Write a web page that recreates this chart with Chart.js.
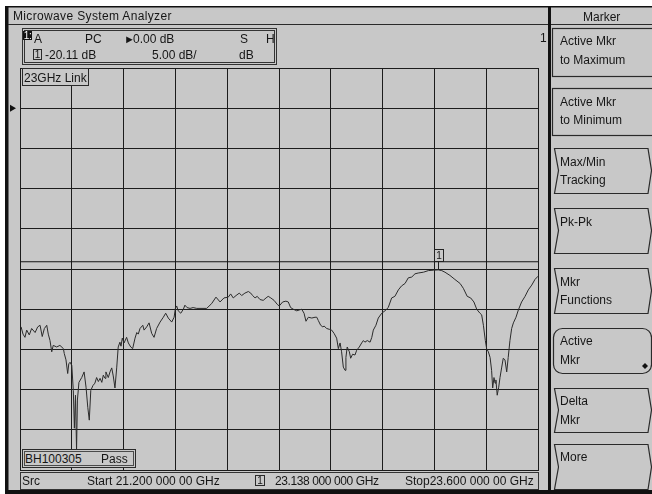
<!DOCTYPE html>
<html>
<head>
<meta charset="utf-8">
<title>Microwave System Analyzer</title>
<script src="https://cdn.jsdelivr.net/npm/chart.js@4/dist/chart.umd.min.js"></script>
<style>
  html, body { margin: 0; padding: 0; background: #fff; }
  #screen { position: relative; width: 652px; height: 494px; overflow: hidden;
            font-family: 'Liberation Sans', Arial, sans-serif; color: #161616; }
  #chrome { position: absolute; left: 0; top: 0; z-index: 0; }
  #plot { position: absolute; left: 0; top: 0; z-index: 1; }
  .t { position: absolute; font-size: 12px; line-height: 12px; white-space: nowrap; z-index: 3; }
  .box { position: absolute; background: #c8c8c8; border: 1px solid #2a2a2a; box-sizing: border-box; z-index: 2; }
  .num { position: absolute; box-sizing: border-box; border: 1px solid #2a2a2a; font-size: 10px;
         line-height: 9px; text-align: center; z-index: 3; }
  .hl { position: absolute; background: #111; color: #ffffff; font-size: 10px; line-height: 9px;
        letter-spacing: -0.5px; text-align: center; box-sizing: border-box; z-index: 3; }
</style>
</head>
<body>
<div id="screen">
  <svg id="chrome" width="652" height="494" xmlns="http://www.w3.org/2000/svg">
    <rect width="652" height="494" fill="#ffffff"/>
    <rect x="5" y="6" width="647" height="488" fill="#c8c8c8"/>
    <rect x="5" y="6" width="647" height="1.5" fill="#111"/>
    <rect x="5" y="6" width="3.5" height="488" fill="#111"/>
    <rect x="5" y="490" width="647" height="4" fill="#111"/>
    <line x1="8" y1="24.5" x2="652" y2="24.5" stroke="#2a2a2a"/>
    <rect x="548" y="6" width="3" height="484" fill="#111"/>
    <!-- trace info block -->
    <rect x="22.5" y="28.5" width="254" height="36" fill="none" stroke="#333"/>
    <rect x="24.5" y="30.5" width="250" height="32" fill="none" stroke="#333"/>
    <!-- status line -->
    <rect x="20.5" y="472.5" width="518" height="17" fill="none" stroke="#333"/>
    <!-- softkeys -->
    <g fill="none" stroke="#2a2a2a" stroke-width="1.2">
      <rect x="552.5" y="28.5" width="120" height="48"/>
      <rect x="552.5" y="88.5" width="120" height="47"/>
      <path d="M648 148.5 H554.5 L558.5 170.5 L554.5 193.5 H648 L651.5 170.5 Z"/>
      <path d="M648 208.5 H554.5 L558.5 230.5 L554.5 253.5 H648 L651.5 230.5 Z"/>
      <path d="M648 268.5 H554.5 L558.5 290.5 L554.5 313.5 H648 L651.5 290.5 Z"/>
      <rect x="553.5" y="328.5" width="98" height="45" rx="9"/>
      <path d="M648 388.5 H554.5 L558.5 410 L554.5 432.5 H648 L651.5 410 Z"/>
      <path d="M648 444.5 H554.5 L558.5 467 L554.5 489.5 H648 L651.5 467 Z"/>
    </g>
    <path d="M645 363 L648 366 L645 369 L642 366 Z" fill="#111"/>
  </svg>

  <canvas id="plot" width="652" height="494"></canvas>

  <!-- title bars -->
  <div class="t" style="left:13px;top:10px;letter-spacing:0.35px;">Microwave System Analyzer</div>
  <div class="t" style="left:583px;top:11px;">Marker</div>

  <!-- trace info block -->
  <div class="hl" style="left:23px;top:31px;width:9px;height:9px;">1:</div>
  <div class="t" style="left:34px;top:33px;">A</div>
  <div class="t" style="left:85px;top:33px;">PC</div>
  <div class="t" style="left:124px;top:33px;font-size:11px;">&#9658;</div>
  <div class="t" id="refText" style="left:133px;top:33px;"></div>
  <div class="t" style="left:240px;top:33px;">S</div>
  <div class="t" style="left:266px;top:33px;">H</div>
  <div class="num" style="left:33px;top:49px;width:9px;height:11px;">1</div>
  <div class="t" id="mkrValText" style="left:45px;top:48.5px;"></div>
  <div class="t" id="scaleText" style="left:152px;top:48.5px;"></div>
  <div class="t" style="left:239px;top:48.5px;">dB</div>
  <div class="t" style="left:540px;top:32px;">1</div>

  <!-- annotations inside the graticule -->
  <div class="box" style="left:22px;top:68px;width:67px;height:18px;"></div>
  <div class="t" style="left:24px;top:71.5px;">23GHz Link</div>
  <div class="box" style="left:22px;top:449px;width:114px;height:19px;box-shadow: inset 0 0 0 1px #c8c8c8, inset 0 0 0 2px #4a4a4a;"></div>
  <div class="t" style="left:25px;top:452.5px;">BH100305</div>
  <div class="t" style="left:101px;top:452.5px;">Pass</div>

  <!-- status line -->
  <div class="t" style="left:22px;top:474.5px;">Src</div>
  <div class="t" id="startText" style="left:87px;top:474.5px;"></div>
  <div class="num" style="left:255px;top:475px;width:10px;height:11px;">1</div>
  <div class="t" id="mkrFreqText" style="left:275px;top:474.5px;letter-spacing:-0.4px;"></div>
  <div class="t" id="stopText" style="left:405px;top:474.5px;"></div>

  <!-- softkey labels -->
  <div class="t" style="left:560px;top:35px;">Active Mkr</div>
  <div class="t" style="left:560px;top:54px;">to Maximum</div>
  <div class="t" style="left:560px;top:95.5px;">Active Mkr</div>
  <div class="t" style="left:560px;top:114px;">to Minimum</div>
  <div class="t" style="left:560px;top:155.5px;">Max/Min</div>
  <div class="t" style="left:560px;top:174px;">Tracking</div>
  <div class="t" style="left:560px;top:215.5px;">Pk-Pk</div>
  <div class="t" style="left:560px;top:275.5px;">Mkr</div>
  <div class="t" style="left:560px;top:294px;">Functions</div>
  <div class="t" style="left:560px;top:334.5px;">Active</div>
  <div class="t" style="left:560px;top:353.5px;">Mkr</div>
  <div class="t" style="left:560px;top:394.5px;">Delta</div>
  <div class="t" style="left:560px;top:413.5px;">Mkr</div>
  <div class="t" style="left:560px;top:450.5px;">More</div>
</div>

<script>
// Sweep settings
const startMHz = 21200;
const stopMHz = 23600;
const refLevelDb = 0;
const dbPerDiv = 5;
const divisions = 10;

// Measured transmission trace (frequency in MHz, level in dB)
const freqMHz = [
  21205, 21214, 21223, 21231, 21243, 21254, 21270, 21282, 21293, 21303,
  21313, 21324, 21331, 21339, 21347, 21354, 21370, 21385, 21401, 21405,
  21413, 21421, 21426, 21432, 21440, 21447, 21452, 21457, 21462, 21466,
  21473, 21486, 21497, 21506, 21514, 21521, 21528, 21538, 21547, 21555,
  21563, 21571, 21579, 21586, 21594, 21598, 21609, 21617, 21625, 21632,
  21640, 21648, 21655, 21663, 21668, 21674, 21682, 21694, 21702, 21713,
  21722, 21733, 21741, 21748, 21756, 21769, 21775, 21787, 21798, 21810,
  21821, 21833, 21849, 21864, 21875, 21887, 21903, 21914, 21920, 21926,
  21933, 21945, 21957, 21964, 21974, 21988, 22002, 22019, 22034, 22065,
  22088, 22108, 22127, 22145, 22165, 22176, 22188, 22201, 22216, 22227,
  22242, 22258, 22269, 22278, 22289, 22299, 22312, 22327, 22340, 22350,
  22362, 22377, 22392, 22401, 22417, 22432, 22443, 22454, 22466, 22482,
  22494, 22505, 22516, 22525, 22536, 22552, 22567, 22575, 22582, 22593,
  22603, 22609, 22621, 22633, 22644, 22655, 22667, 22675, 22683, 22690,
  22698, 22706, 22710, 22716, 22726, 22732, 22741, 22752, 22760, 22772,
  22783, 22791, 22798, 22809, 22822, 22830, 22837, 22849, 22860, 22876,
  22891, 22906, 22922, 22937, 22953, 22968, 22984, 22999, 23015, 23030,
  23045, 23069, 23092, 23115, 23138, 23154, 23169, 23192, 23215, 23239,
  23254, 23272, 23288, 23303, 23316, 23331, 23339, 23347, 23356, 23362,
  23370, 23378, 23385, 23390, 23396, 23401, 23405, 23411, 23418, 23424,
  23432, 23439, 23447, 23455, 23462, 23470, 23478, 23486, 23498, 23509,
  23524, 23540, 23555, 23571, 23586, 23600
];
const traceDb = [
  -27.2, -28.1, -28.5, -27.6, -28.2, -27.4, -27.9, -27.2, -27.0, -28.4,
  -27.4, -27.0, -28.1, -28.9, -30.3, -29.5, -29.7, -29.5, -29.9, -30.5,
  -31.3, -33.0, -31.8, -31.6, -32.0, -35.1, -39.8, -35.7, -42.5, -36.3,
  -34.1, -33.5, -32.8, -34.7, -37.2, -38.8, -35.1, -34.5, -34.2, -33.5,
  -34.0, -33.6, -34.1, -33.2, -33.6, -32.8, -33.5, -32.8, -32.3, -33.3,
  -34.8, -32.3, -29.7, -29.1, -29.6, -28.6, -29.2, -28.5, -29.2, -29.7,
  -29.9, -28.6, -27.9, -28.1, -27.4, -27.0, -27.6, -27.2, -26.7, -28.0,
  -28.5, -27.4, -26.6, -26.0, -25.5, -26.1, -26.6, -26.0, -24.9, -24.6,
  -25.2, -25.5, -25.0, -24.5, -24.8, -24.9, -24.8, -24.9, -24.9, -24.9,
  -24.3, -23.5, -24.1, -23.6, -23.5, -23.1, -23.6, -23.3, -23.0, -23.3,
  -23.0, -22.8, -23.0, -23.3, -23.6, -23.4, -23.8, -23.9, -23.6, -23.4,
  -23.6, -23.9, -24.4, -24.6, -24.1, -24.0, -24.1, -24.8, -25.0, -25.2,
  -25.1, -25.0, -25.5, -26.5, -26.0, -26.1, -26.0, -26.0, -26.4, -27.0,
  -27.2, -27.1, -27.4, -27.5, -27.6, -28.0, -28.6, -29.9, -29.2, -30.3,
  -32.2, -32.6, -31.0, -29.7, -30.3, -31.1, -30.6, -30.7, -30.1, -29.7,
  -29.2, -28.9, -29.1, -28.9, -29.1, -28.5, -27.6, -27.0, -26.1, -25.5,
  -25.2, -24.8, -23.6, -23.4, -22.6, -22.1, -21.8, -21.1, -21.0, -20.6,
  -20.5, -20.4, -20.2, -20.15, -20.11, -20.2, -20.4, -20.8, -21.3, -21.8,
  -22.4, -23.4, -23.6, -24.1, -25.0, -25.5, -25.7, -27.0, -28.9, -29.9,
  -30.3, -31.0, -32.6, -34.8, -33.5, -34.2, -33.8, -35.7, -34.7, -33.5,
  -32.2, -31.1, -31.3, -32.8, -31.0, -28.9, -27.4, -26.7, -26.0, -25.1,
  -24.1, -23.4, -22.6, -22.0, -21.3, -20.9
];

// Upper limit line and active marker
const limitDb = -19.1;
const markerFreqMHz = 23138;
const markerDb = -20.11;

// Text readouts
function ghzText(mhz, groups) {
  const g = (mhz / 1000).toFixed(groups === 3 ? 9 : 8);
  const [ip, fp] = g.split('.');
  const parts = fp.match(/.{1,3}/g);
  return ip + '.' + parts.join(' ') + ' GHz';
}
document.getElementById('refText').textContent = refLevelDb.toFixed(2) + ' dB';
document.getElementById('scaleText').textContent = dbPerDiv.toFixed(2) + ' dB/';
document.getElementById('mkrValText').textContent = markerDb.toFixed(2) + ' dB';
document.getElementById('startText').textContent = 'Start ' + ghzText(startMHz, 2);
document.getElementById('stopText').textContent = 'Stop' + ghzText(stopMHz, 2);
document.getElementById('mkrFreqText').textContent = ghzText(markerFreqMHz, 3);

const topDb = refLevelDb + dbPerDiv;
const bottomDb = topDb - divisions * dbPerDiv;
const gridColor = '#1c1c1c';

// Marker flag, reference-level arrow
const overlayPlugin = {
  id: 'overlay',
  afterDatasetsDraw(chart) {
    const ctx = chart.ctx;
    const xs = chart.scales.x, ys = chart.scales.y;
    const px = Math.round(xs.getPixelForValue(markerFreqMHz));
    const py = ys.getPixelForValue(markerDb);
    ctx.save();
    ctx.strokeStyle = '#222';
    ctx.lineWidth = 1;
    const boxTop = Math.round(py - 21) + 0.5;
    ctx.fillStyle = '#c8c8c8';
    ctx.fillRect(px - 3.5, boxTop, 9, 12);
    ctx.strokeRect(px - 3.5, boxTop, 9, 12);
    ctx.beginPath();
    ctx.moveTo(px + 0.5, boxTop + 12);
    ctx.lineTo(px + 0.5, py);
    ctx.stroke();
    ctx.fillStyle = '#161616';
    ctx.font = '10px "Liberation Sans", Arial, sans-serif';
    ctx.textAlign = 'center';
    ctx.textBaseline = 'middle';
    ctx.fillText('1', px + 1, boxTop + 6.5);
    // reference level pointer
    const ry = ys.getPixelForValue(refLevelDb);
    ctx.fillStyle = '#111';
    ctx.beginPath();
    ctx.moveTo(10, ry - 3.5);
    ctx.lineTo(16, ry);
    ctx.lineTo(10, ry + 3.5);
    ctx.closePath();
    ctx.fill();
    ctx.restore();
  }
};

new Chart(document.getElementById('plot'), {
  type: 'scatter',
  data: {
    datasets: [
      {
        data: freqMHz.map((f, i) => ({ x: f, y: traceDb[i] })),
        showLine: true,
        borderColor: '#2b2b2b',
        borderWidth: 1,
        pointRadius: 0,
        tension: 0
      },
      {
        data: [{ x: startMHz, y: limitDb }, { x: stopMHz, y: limitDb }],
        showLine: true,
        borderColor: '#151515',
        borderWidth: 1,
        pointRadius: 0
      }
    ]
  },
  options: {
    responsive: false,
    animation: false,
    events: [],
    devicePixelRatio: 1,
    layout: { padding: { left: 20, top: 68, right: 114, bottom: 24 } },
    plugins: { legend: { display: false }, tooltip: { enabled: false } },
    scales: {
      x: {
        type: 'linear', min: startMHz, max: stopMHz,
        afterBuildTicks(scale) {
          const step = (stopMHz - startMHz) / divisions;
          scale.ticks = Array.from({ length: divisions + 1 }, (_, i) => ({ value: startMHz + i * step }));
        },
        ticks: { display: false },
        grid: { color: gridColor, lineWidth: 1, drawTicks: false },
        border: { display: true, color: gridColor, width: 1 }
      },
      y: {
        type: 'linear', min: bottomDb, max: topDb,
        afterBuildTicks(scale) {
          scale.ticks = Array.from({ length: divisions + 1 }, (_, i) => ({ value: bottomDb + i * dbPerDiv }));
        },
        ticks: { display: false },
        grid: { color: gridColor, lineWidth: 1, drawTicks: false },
        border: { display: true, color: gridColor, width: 1 }
      }
    }
  },
  plugins: [overlayPlugin]
});
</script>
</body>
</html>
